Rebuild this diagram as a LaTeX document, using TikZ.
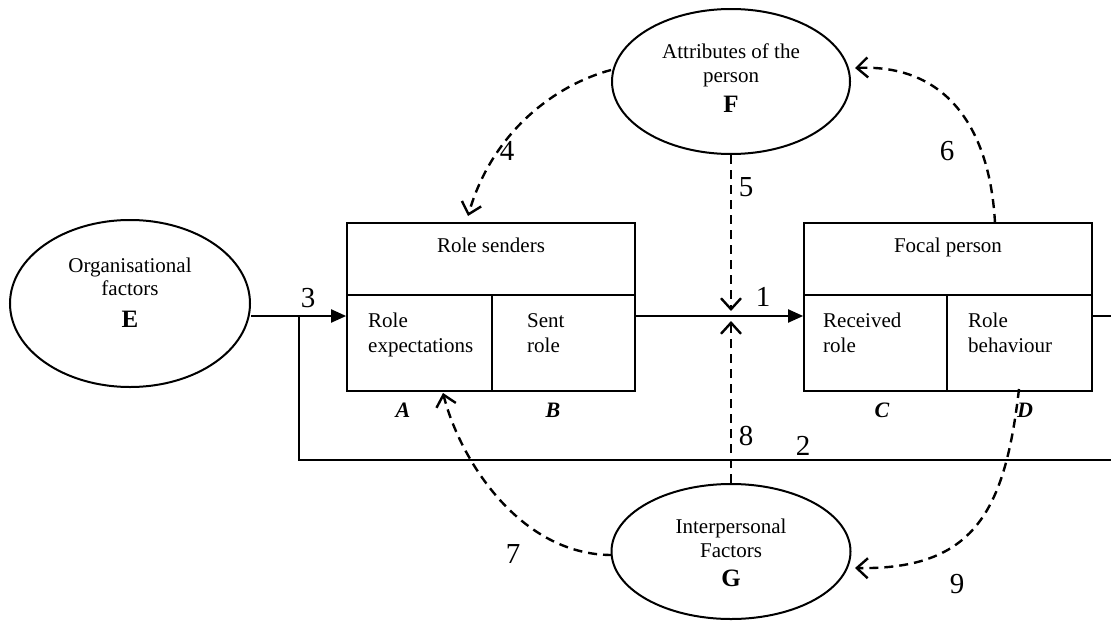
\documentclass[tikz,border=0pt]{standalone}
\usepackage{fontspec}
\setmainfont{Liberation Serif}
\usetikzlibrary{shapes.geometric,arrows.meta}
\begin{document}
\begin{tikzpicture}[x=1pt,y=-1pt,
  ell/.style={draw,ellipse,line width=2pt,inner sep=0pt},
  cellbox/.style={draw,rectangle,line width=1.7pt,inner sep=0pt},
  lbl/.style={font=\fontsize{21}{25}\selectfont,inner sep=0pt,anchor=base},
  lblw/.style={font=\fontsize{21}{25}\selectfont,inner sep=0pt,anchor=base west},
  bigl/.style={font=\fontsize{25}{28}\selectfont\bfseries,inner sep=0pt,anchor=base},
  boxl/.style={font=\fontsize{22}{25}\selectfont\bfseries\itshape,inner sep=0pt,anchor=base},
  num/.style={font=\fontsize{29}{32}\selectfont,inner sep=0pt,anchor=base},
  solidline/.style={line width=2pt},
  solidarrow/.style={line width=2pt,-{Triangle[length=15pt,width=13pt]}},
  dasharrow/.style={line width=2.4pt,dash pattern=on 9pt off 6pt,-{Straight Barb[length=11pt,width=20pt,line width=2.4pt]}}
]
\useasboundingbox (0,0) rectangle (1111,621);

% ellipses
\node[ell,minimum width=240pt,minimum height=167pt] (E) at (130,303.5) {};
\node[ell,minimum width=238pt,minimum height=145pt] (F) at (731,81.5) {};
\node[ell,minimum width=239pt,minimum height=135pt] (G) at (731,551.5) {};

\node[lbl] (Et1) at (130,272) {Organisational};
\node[lbl] (Et2) at (130,295) {factors};
\node[bigl] (Et3) at (130,327) {E};
\node[lbl] (Ft1) at (731,58) {Attributes of the};
\node[lbl] (Ft2) at (731,82) {person};
\node[bigl] (Ft3) at (731,112) {F};
\node[lbl] (Gt1) at (731,533) {Interpersonal};
\node[lbl] (Gt2) at (731,557) {Factors};
\node[bigl] (Gt3) at (731,586) {G};

% Role senders box
\node[cellbox,minimum width=288pt,minimum height=72pt] (RS) at (491,259) {};
\node[cellbox,minimum width=145pt,minimum height=96pt] (RA) at (419.5,343) {};
\node[cellbox,minimum width=143pt,minimum height=96pt] (RB) at (563.5,343) {};
\node[lbl] (RSt) at (491,252) {Role senders};
\node[lblw] (RAt1) at (368,327) {Role};
\node[lblw] (RAt2) at (368,352) {expectations};
\node[lblw] (RBt1) at (527,327) {Sent};
\node[lblw] (RBt2) at (527,352) {role};
\node[boxl] (Al) at (403,417) {A};
\node[boxl] (Bl) at (553,417) {B};

% Focal person box
\node[cellbox,minimum width=288pt,minimum height=72pt] (FP) at (948,259) {};
\node[cellbox,minimum width=143pt,minimum height=96pt] (FC) at (875.5,343) {};
\node[cellbox,minimum width=145pt,minimum height=96pt] (FD) at (1019.5,343) {};
\node[lbl] (FPt) at (948,252) {Focal person};
\node[lblw] (FCt1) at (823,327) {Received};
\node[lblw] (FCt2) at (823,352) {role};
\node[lblw] (FDt1) at (968,327) {Role};
\node[lblw] (FDt2) at (968,352) {behaviour};
\node[boxl] (Cl) at (882,417) {C};
\node[boxl] (Dl) at (1025,417) {D};

% helper coordinates
\coordinate (J) at (299,316);
\coordinate (R1) at (1111,316);
\coordinate (B2) at (1111,460);
\coordinate (T5) at (731,311);
\coordinate (T8) at (731,321);
\coordinate (T4) at (468,216);
\coordinate (S6) at (995,223);
\coordinate (T6) at (855,68);
\coordinate (T7) at (443,393);
\coordinate (S9) at (1019,389);
\coordinate (T9) at (855,568);
\coordinate (S4) at (611,70);
\coordinate (S7) at (612,555);

% solid connectors
\draw[solidarrow] (E.east |- J) -- (RA.west |- J);
\draw[solidarrow] (RB.east |- J) -- (FC.west |- J);
\draw[solidline] (FD.east |- R1) -- (R1);
\draw[solidline] (J) -- (J |- B2) -- (B2);

% dashed connectors
\draw[dasharrow] (F.south) -- (T5);
\draw[dasharrow] (G.north) -- (T8);
\draw[dasharrow] (S4) .. controls (555,85) and (492,132) .. (T4);
\draw[dasharrow] (S6) .. controls (990,130) and (948,64) .. (T6);
\draw[dasharrow] (S7) .. controls (520,555) and (460,460) .. (T7);
\draw[dasharrow] (S9) .. controls (1005,510) and (975,570) .. (T9);

% numbers
\node[num] (n1) at (763,306) {1};
\node[num] (n2) at (803,455) {2};
\node[num] (n3) at (308,307) {3};
\node[num] (n4) at (507,160) {4};
\node[num] (n5) at (746,196) {5};
\node[num] (n6) at (947,160) {6};
\node[num] (n7) at (513,563) {7};
\node[num] (n8) at (746,445) {8};
\node[num] (n9) at (957,593) {9};
\end{tikzpicture}
\end{document}
